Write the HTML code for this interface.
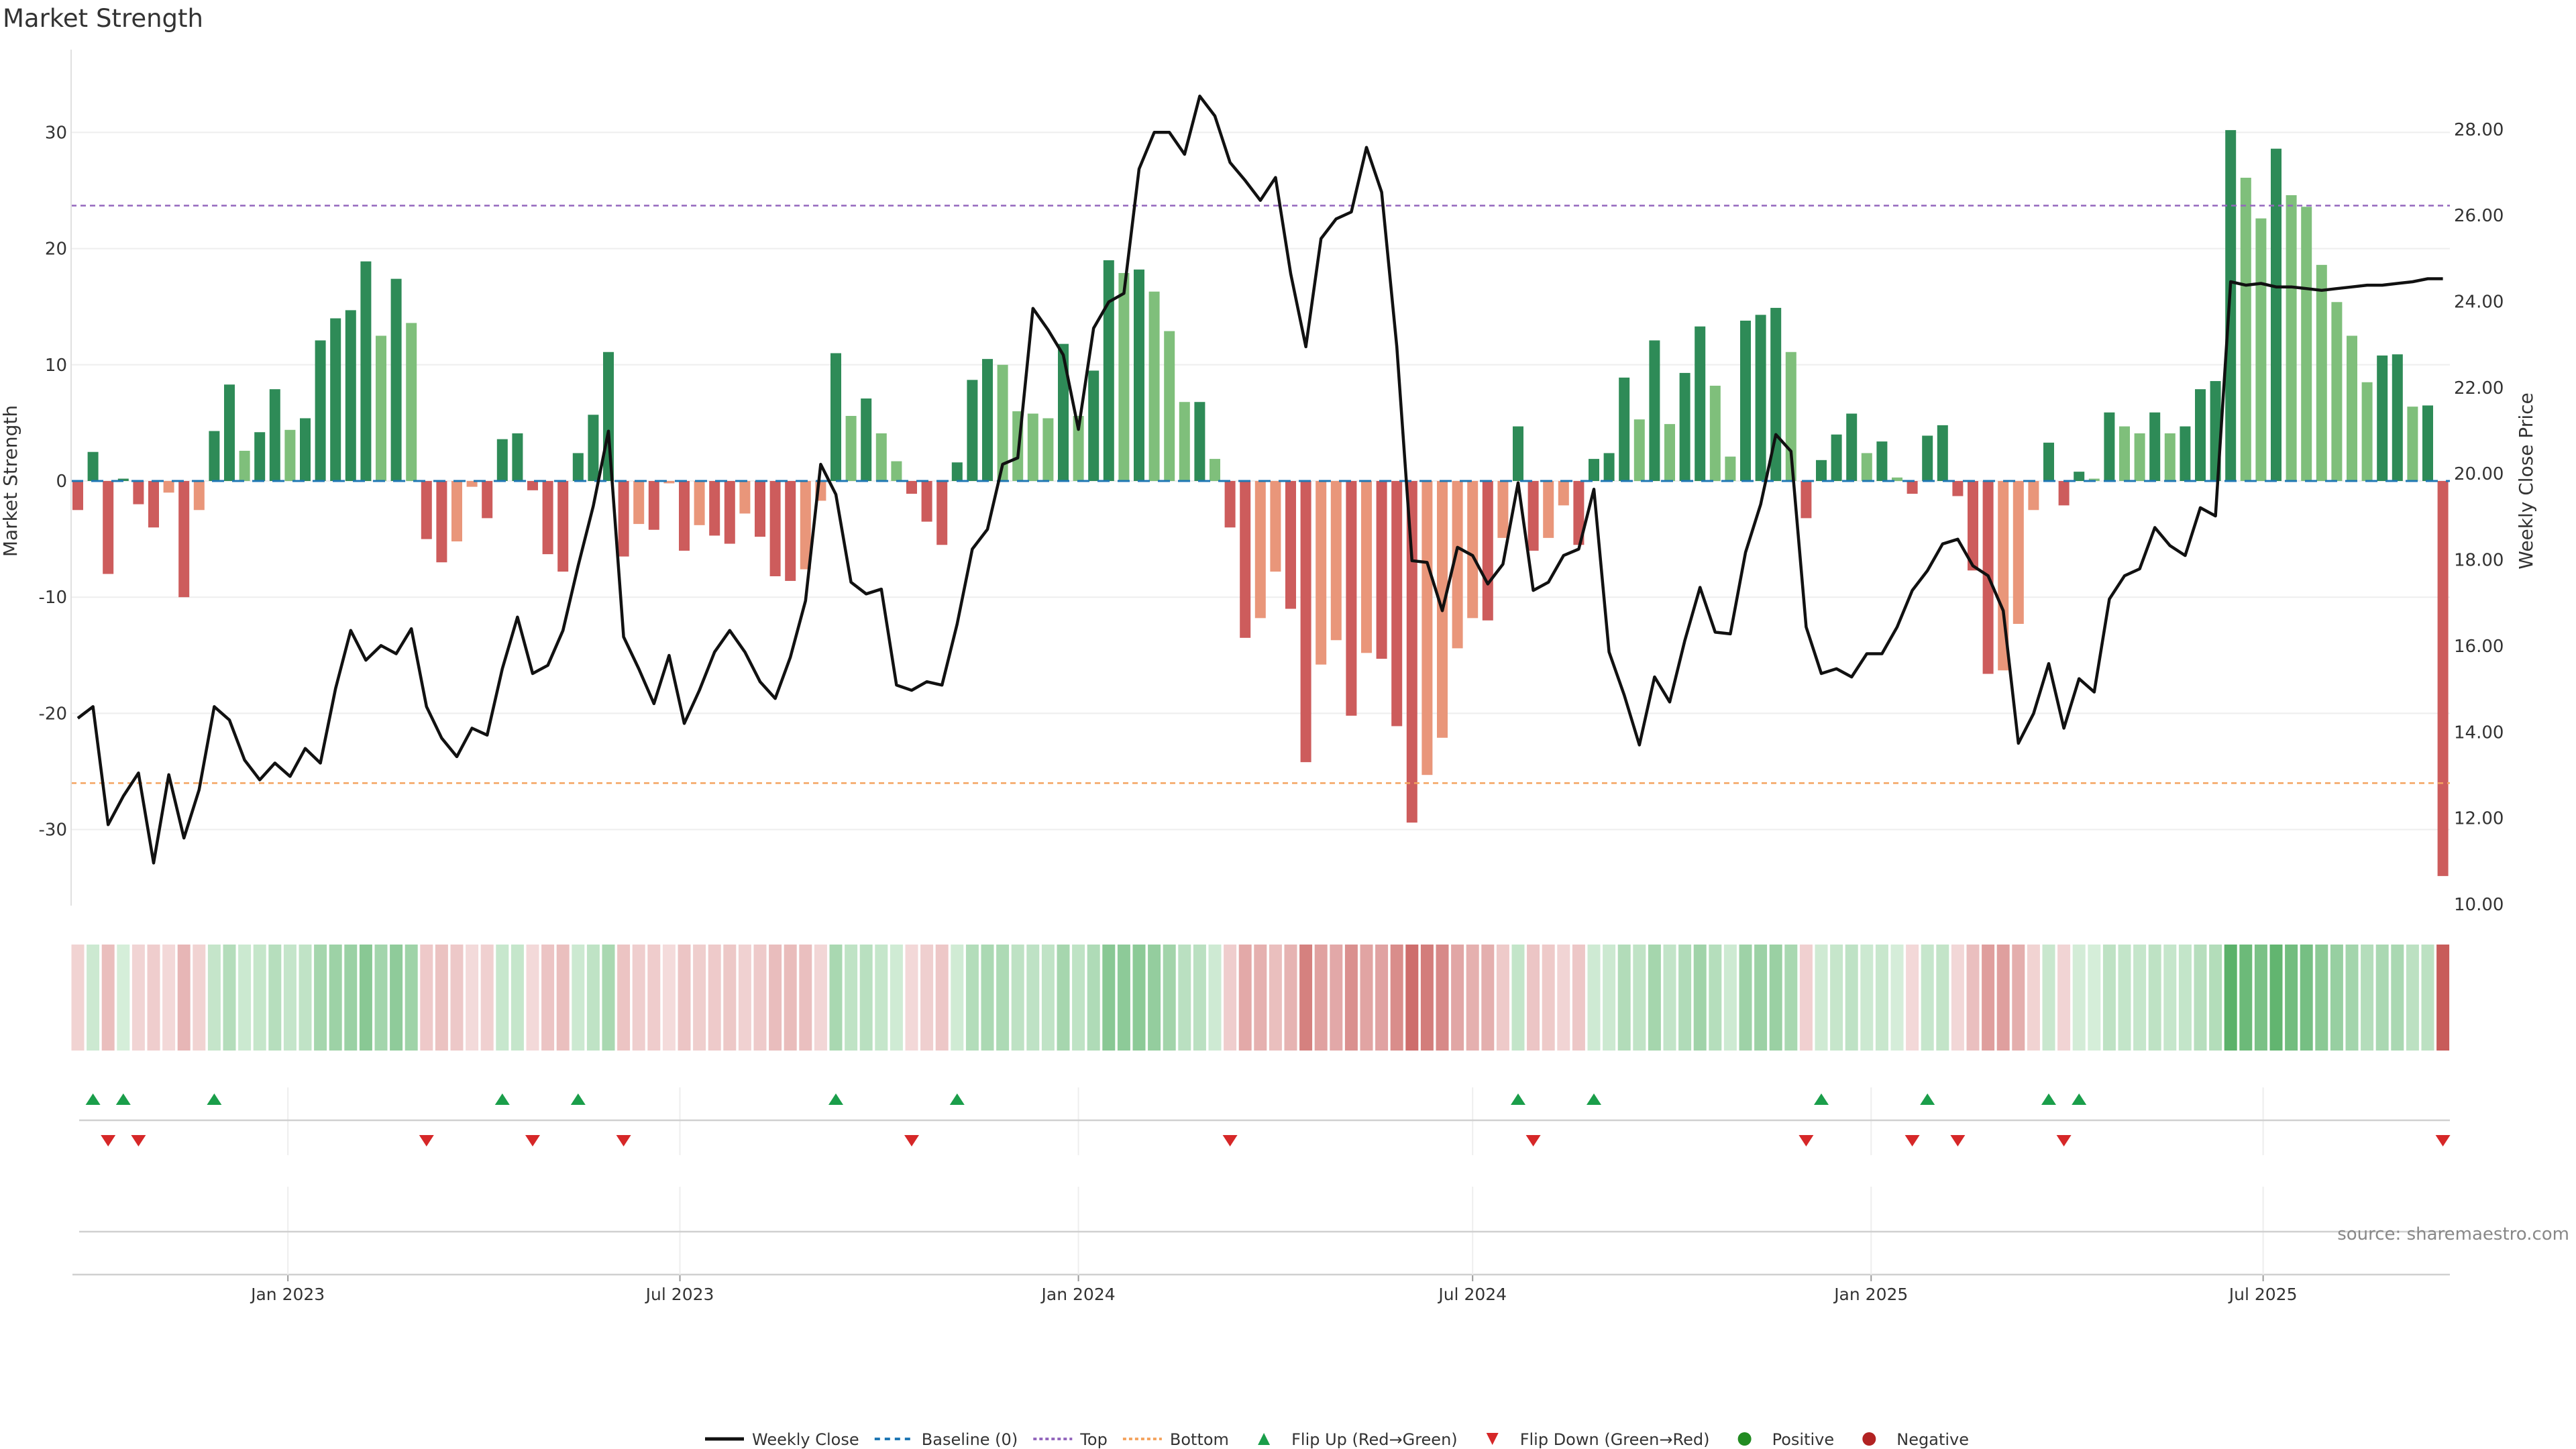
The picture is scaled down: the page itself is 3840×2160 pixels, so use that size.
<!DOCTYPE html>
<html><head><meta charset="utf-8"><style>
html,body{margin:0;padding:0;background:#fff;}
svg{display:block;font-family:"DejaVu Sans","Liberation Sans",sans-serif;}
</style></head><body>
<svg id="chart" width="3840" height="2160" viewBox="0 0 3840 2160" xmlns="http://www.w3.org/2000/svg">
<text x="4" y="40" font-size="37" fill="#333">Market Strength</text>
<g id="grid"></g>
<g id="bars"></g>
<g id="refs"></g>
<g id="line"></g>
<g id="axes"></g>
<g id="heat"></g>
<g id="flips"></g>
<text x="3830" y="1848" font-size="26" fill="#888" text-anchor="end">source: sharemaestro.com</text>
<g id="legend"></g>
</svg>
<script>
const strength = [-2.5,2.5,-8,0.2,-2,-4,-1,-10,-2.5,4.3,8.3,2.6,4.2,7.9,4.4,5.4,12.1,14,14.7,18.9,12.5,17.4,13.6,-5,-7,-5.2,-0.5,-3.2,3.6,4.1,-0.8,-6.3,-7.8,2.4,5.7,11.1,-6.5,-3.7,-4.2,-0.2,-6,-3.8,-4.7,-5.4,-2.8,-4.8,-8.2,-8.6,-7.6,-1.7,11,5.6,7.1,4.1,1.7,-1.1,-3.5,-5.5,1.6,8.7,10.5,10,6,5.8,5.4,11.8,5.6,9.5,19,17.9,18.2,16.3,12.9,6.8,6.8,1.9,-4,-13.5,-11.8,-7.8,-11,-24.2,-15.8,-13.7,-20.2,-14.8,-15.3,-21.1,-29.4,-25.3,-22.1,-14.4,-11.8,-12,-4.9,4.7,-6,-4.9,-2.1,-5.5,1.9,2.4,8.9,5.3,12.1,4.9,9.3,13.3,8.2,2.1,13.8,14.3,14.9,11.1,-3.2,1.8,4,5.8,2.4,3.4,0.3,-1.1,3.9,4.8,-1.3,-7.7,-16.6,-16.3,-12.3,-2.5,3.3,-2.1,0.8,0.2,5.9,4.7,4.1,5.9,4.1,4.7,7.9,8.6,30.2,26.1,22.6,28.6,24.6,23.6,18.6,15.4,12.5,8.5,10.8,10.9,6.4,6.5,-34];
const closes = [14.32,14.59,11.85,12.51,13.05,10.96,13.01,11.54,12.66,14.59,14.28,13.35,12.89,13.28,12.97,13.62,13.28,15.01,16.36,15.67,16.01,15.82,16.40,14.59,13.86,13.43,14.09,13.93,15.47,16.67,15.36,15.55,16.36,17.86,19.25,20.99,16.21,15.47,14.66,15.78,14.20,14.97,15.86,16.36,15.86,15.17,14.78,15.74,17.05,20.22,19.52,17.48,17.21,17.32,15.09,14.97,15.17,15.09,16.51,18.25,18.71,20.22,20.37,23.84,23.34,22.76,21.03,23.38,23.99,24.19,27.08,27.93,27.93,27.42,28.77,28.31,27.23,26.81,26.35,26.88,24.65,22.95,25.46,25.92,26.08,27.58,26.54,22.95,17.98,17.94,16.82,18.29,18.10,17.44,17.90,19.79,17.29,17.48,18.10,18.25,19.64,15.86,14.86,13.70,15.28,14.70,16.13,17.36,16.32,16.28,18.17,19.29,20.91,20.52,16.44,15.36,15.47,15.28,15.82,15.82,16.44,17.29,17.75,18.37,18.48,17.86,17.63,16.82,13.74,14.43,15.59,14.09,15.24,14.93,17.09,17.63,17.79,18.75,18.33,18.10,19.21,19.02,24.46,24.38,24.42,24.34,24.34,24.30,24.26,24.30,24.34,24.38,24.38,24.42,24.46,24.53,24.53];
const leftTicks = [-30,-20,-10,0,10,20,30];
const rightTicks = [10,12,14,16,18,20,22,24,26,28];
const monthTicks = ["2023-01-01","2023-07-01","2024-01-01","2024-07-01","2025-01-01","2025-07-01"];
const monthLabels = ["Jan 2023","Jul 2023","Jan 2024","Jul 2024","Jan 2025","Jul 2025"];
const topLevel = 23.7;
const bottomLevel = -26;
const startDate = "2022-09-26";

const NS="http://www.w3.org/2000/svg";
function mk(tag, attrs, parent){const e=document.createElementNS(NS,tag);for(const k in attrs)e.setAttribute(k,attrs[k]);parent.appendChild(e);return e;}
const X0=116, STEP=22.6;
const xi = i => X0 + i*STEP;
const t0 = new Date(startDate+"T00:00:00Z").getTime();
const xd = s => X0 + ((new Date(s+"T00:00:00Z").getTime()-t0)/86400000/7)*STEP;
const yL = v => 717 - v*17.32;
const yR = p => 1348 - (p-10)*64.18;
const PL=106, PR=3652;

const grid=document.getElementById('grid'), axes=document.getElementById('axes');
leftTicks.forEach(v=>{
  const g=mk('line',{x1:PL,x2:PR,y1:yL(v),y2:yL(v),stroke:'#eeeeee','stroke-width':2},grid);
  
  
  const t=mk('text',{x:100,y:yL(v)+9,'font-size':26,fill:'#333','text-anchor':'end'},axes);
  t.textContent=v; 
  
});
rightTicks.forEach(p=>{
  const t=mk('text',{x:3658,y:yR(p)+9,'font-size':26,fill:'#333'},axes);
  t.textContent=p.toFixed(2); 
  
});
const la=mk('line',{x1:PL,x2:PL,y1:74,y2:1350,stroke:'#e0e0e0','stroke-width':2},axes);


let yt=mk('text',{x:0,y:0,'font-size':28,fill:'#333','text-anchor':'middle',transform:'translate(25,717) rotate(-90)'},axes);
yt.textContent='Market Strength';


yt=mk('text',{x:0,y:0,'font-size':28,fill:'#333','text-anchor':'middle',transform:'translate(3775,717) rotate(-90)'},axes);
yt.textContent='Weekly Close Price';



const bars=document.getElementById('bars');
strength.forEach((v,i)=>{
  const prev=i>0?strength[i-1]:0;
  let c;
  if(v>0) c = v>=prev ? '#2e8b57' : '#7fbf7b';
  else c = v<=prev ? '#cd5c5c' : '#e9967a';
  const y1=yL(Math.max(v,0)), y2=yL(Math.min(v,0));
  const r=mk('rect',{x:xi(i)-8,y:y1,width:16,height:Math.max(y2-y1,0),fill:c},bars);
  
  
});
const refs=document.getElementById('refs');
let l=mk('line',{x1:PL,x2:PR,y1:yL(0),y2:yL(0),stroke:'#1f77b4','stroke-width':3,'stroke-dasharray':'18 12'},refs);


l=mk('line',{x1:PL,x2:PR,y1:yL(topLevel),y2:yL(topLevel),stroke:'#9467bd','stroke-width':2.5,'stroke-dasharray':'8 6'},refs);


l=mk('line',{x1:PL,x2:PR,y1:yL(bottomLevel),y2:yL(bottomLevel),stroke:'#f4a460','stroke-width':2.5,'stroke-dasharray':'8 6'},refs);


const pts=closes.map((p,i)=>xi(i).toFixed(1)+','+yR(p).toFixed(1)).join(' ');
const pl=mk('polyline',{points:pts,fill:'none',stroke:'#111','stroke-width':4.5,'stroke-linejoin':'round'},document.getElementById('line'));



const heat=document.getElementById('heat');
function mix(a,b,t){return 'rgb('+a.map((x,k)=>Math.round(x+(b[k]-x)*t)).join(',')+')';}
strength.forEach((v,i)=>{
  const t=Math.min(Math.abs(v)/34,1);
  const c = v>0 ? mix([214,238,218],[76,170,92],t) : mix([244,220,220],[200,92,90],t);
  const r=mk('rect',{x:xi(i)-9.5,y:1408,width:19,height:158,fill:c},heat);
  
  
});

const flips=document.getElementById('flips');
monthTicks.forEach((d,k)=>{
  const x=xd(d);
  let g=mk('line',{x1:x,x2:x,y1:1621,y2:1722,stroke:'#eeeeee','stroke-width':2},flips);
  
  
  g=mk('line',{x1:x,x2:x,y1:1769,y2:1900,stroke:'#eeeeee','stroke-width':2},flips);
  
  
  g=mk('line',{x1:x,x2:x,y1:1900,y2:1910,stroke:'#999','stroke-width':2},axes);
  
  
  const t=mk('text',{x:x,y:1938,'font-size':25,fill:'#333','text-anchor':'middle'},axes);
  t.textContent=monthLabels[k];
  
  
});
let h=mk('line',{x1:118,x2:PR,y1:1670,y2:1670,stroke:'#d0d0d0','stroke-width':2.5},flips);


h=mk('line',{x1:118,x2:PR,y1:1836,y2:1836,stroke:'#d0d0d0','stroke-width':2.5},flips);


h=mk('line',{x1:108,x2:PR,y1:1900,y2:1900,stroke:'#d0d0d0','stroke-width':2.5},axes);


strength.forEach((v,i)=>{
  if(i===0) return;
  const p=strength[i-1], x=xi(i);
  if(v>0 && p<=0){
    const tr=mk('polygon',{points:`${x-11},1647 ${x+11},1647 ${x},1630`,fill:'#1a9e4a'},flips);
    
    
  } else if(v<=0 && p>0){
    const tr=mk('polygon',{points:`${x-11},1692 ${x+11},1692 ${x},1709`,fill:'#d62728'},flips);
    
    
  }
});

// legend: measure text, then centre within 1051..2935
const leg=document.getElementById('legend');
const items=[
 {k:'line',c:'#111',d:null,label:'Weekly Close'},
 {k:'line',c:'#1f77b4',d:'8 7',label:'Baseline (0)'},
 {k:'line',c:'#9467bd',d:'5 4',label:'Top'},
 {k:'line',c:'#f4a460',d:'5 4',label:'Bottom'},
 {k:'up',c:'#1a9e4a',label:'Flip Up (Red→Green)'},
 {k:'down',c:'#d62728',label:'Flip Down (Green→Red)'},
 {k:'dot',c:'#228b22',label:'Positive'},
 {k:'dot',c:'#b22222',label:'Negative'}];
const ly=2145;
const groups=[];
items.forEach(it=>{
  const g=mk('g',{},leg);
  
  
  if(it.k==='line'){const a={x1:0,x2:58,y1:ly,y2:ly,stroke:it.c,'stroke-width':it.d?4:5};if(it.d)a['stroke-dasharray']=it.d;mk('line',a,g);}
  else if(it.k==='up') mk('polygon',{points:`20,${ly+9} 38,${ly+9} 29,${ly-9}`,fill:it.c},g);
  else if(it.k==='down') mk('polygon',{points:`20,${ly-9} 38,${ly-9} 29,${ly+9}`,fill:it.c},g);
  else mk('circle',{cx:29,cy:ly,r:10,fill:it.c},g);
  const t=mk('text',{x:70,y:ly+9,'font-size':24,fill:'#333'},g);
  t.textContent=it.label;
  groups.push({g:g,w:70+t.getComputedTextLength()});
});
const total=groups.reduce((s,o)=>s+o.w,0);
const gap=Math.max(20,(1884-total)/(groups.length-1));
let lx=1993-(total+gap*(groups.length-1))/2;
groups.forEach(o=>{o.g.setAttribute('transform',`translate(${lx.toFixed(1)},0)`);lx+=o.w+gap;});
</script>
</body></html>
